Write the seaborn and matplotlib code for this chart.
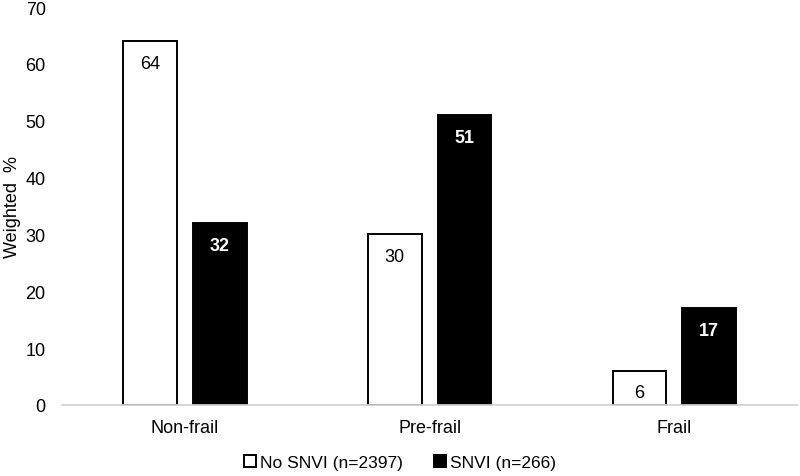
import pandas as pd
import matplotlib.pyplot as plt
import seaborn as sns

categories = ["Non-frail", "Pre-frail", "Frail"]
groups = ["No SNVI (n=2397)", "SNVI (n=266)"]
no_snvi = [64, 30, 6]
snvi = [32, 51, 17]

df = pd.DataFrame({
    "frailty": categories * 2,
    "group": [groups[0]] * 3 + [groups[1]] * 3,
    "pct": no_snvi + snvi,
})

sns.set_theme(style="white")
plt.rcParams["font.family"] = ["Liberation Sans", "DejaVu Sans"]
plt.rcParams["text.color"] = "black"
plt.rcParams["xtick.color"] = "black"
plt.rcParams["ytick.color"] = "black"
plt.rcParams["axes.labelcolor"] = "black"

fig = plt.figure(figsize=(8, 4.77), dpi=100)
ax = fig.add_axes([0.078, 0.149, 0.918, 0.834])

sns.barplot(
    data=df, x="frailty", y="pct", hue="group", order=categories,
    hue_order=groups, palette=["white", "black"], width=0.571, gap=0.23,
    edgecolor="black", linewidth=1.4, ax=ax, legend=True,
)

# value labels inside bar tops
for cont, color, weight in zip(ax.containers, ["black", "white"], ["normal", "bold"]):
    labels = [f"{v:.0f}" for v in cont.datavalues]
    ax.bar_label(cont, labels=labels, padding=-22, color=color,
                 fontsize=13, fontweight=weight)

ax.set_ylim(0, 70)
ax.set_yticks(range(0, 71, 10))
ax.set_xlabel("")
ax.set_ylabel("Weighted  %", fontsize=13, labelpad=3)
ax.tick_params(axis="both", labelsize=13, length=0)
ax.tick_params(axis="x", pad=10)
ax.tick_params(axis="y", pad=12)
sns.despine(ax=ax, left=True)
ax.spines["bottom"].set_color("#d0d0d0")

handles, labels = ax.get_legend_handles_labels()
ax.get_legend().remove()
fig.legend(handles, labels, loc="center", bbox_to_anchor=(0.5, 0.028), ncol=2,
           frameon=False, fontsize=12.5, handlelength=0.7, handleheight=0.7,
           handletextpad=0.2, columnspacing=1.8)

plt.savefig("out.png", dpi=100)
